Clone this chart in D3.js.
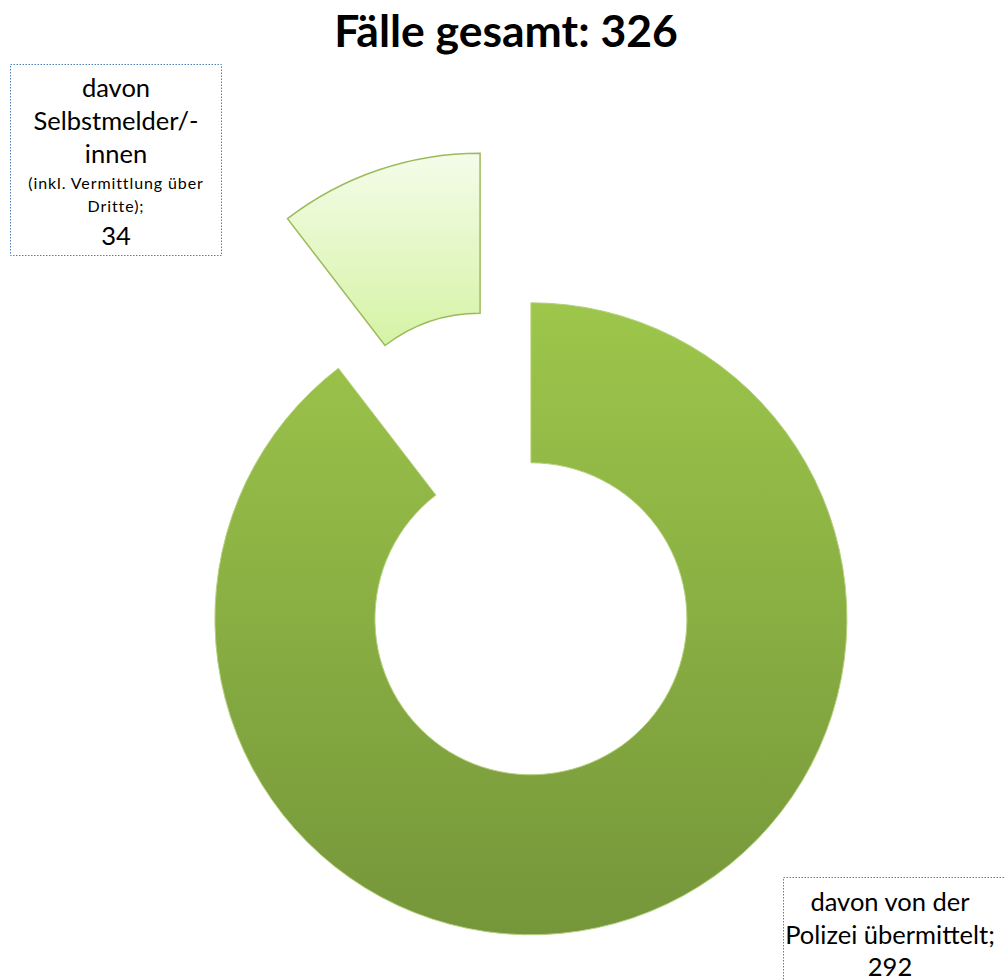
<!DOCTYPE html>
<meta charset="utf-8">
<script src="https://d3js.org/d3.v7.min.js"></script>
<style>
  body { margin: 0; background: #fff; }
</style>
<div id="my_dataviz"></div>
<script>

// data
var categories = ["davon von der Polizei übermittelt", "davon Selbstmelder/-innen (inkl. Vermittlung über Dritte)"];
var values = [292, 34];
var title = "Fälle gesamt: 326";

var width = 1005, height = 980;
var cx = 505.5, cy = 544,      // chart centre
    explode = 79,
    outerR = 316, innerR = 156;

var svg = d3.select("#my_dataviz")
  .append("svg")
    .attr("width", width)
    .attr("height", height)
    .style("font-family", "Lato, 'Open Sans', sans-serif");

// gradients, one per slice (top -> bottom)
var grads = [["#9dc64b", "#75963a"], ["#f4fce9", "#d5f3a5"]];
var strokes = ["#b5d07e", "#9bbb59"];
var defs = svg.append("defs");
grads.forEach(function(g, i) {
  var lg = defs.append("linearGradient")
      .attr("id", "grad" + i)
      .attr("x1", 0).attr("y1", 0).attr("x2", 0).attr("y2", 1);
  lg.append("stop").attr("offset", "0%").attr("stop-color", g[0]);
  lg.append("stop").attr("offset", "100%").attr("stop-color", g[1]);
});

var pie = d3.pie().sort(null).value(function(d) { return d; });
var arc = d3.arc().innerRadius(innerR).outerRadius(outerR);

var slices = pie(values);

svg.append("g")
    .attr("transform", "translate(" + cx + "," + cy + ")")
  .selectAll("path")
  .data(slices)
  .enter().append("path")
    .attr("d", arc)
    .attr("transform", function(d) {
      var a = (d.startAngle + d.endAngle) / 2;
      return "translate(" + (Math.sin(a) * explode) + "," + (-Math.cos(a) * explode) + ")";
    })
    .attr("fill", function(d, i) { return "url(#grad" + i + ")"; })
    .attr("stroke", function(d, i) { return strokes[i]; })
    .attr("stroke-width", function(d, i) { return i == 1 ? 1.5 : 1; });

// title
svg.append("text")
    .attr("x", 506)
    .attr("y", 47)
    .attr("text-anchor", "middle")
    .style("font-size", "44.5px")
    .style("font-weight", "bold")
    .text(title);

// label boxes
var labelBoxes = [
  {x: 783.5, y: 877.5, w: 240, h: 120, cx: 890,
   lines: [["davon von der", 25.5, 911, 0], ["Polizei übermittelt;", 25.5, 944, 0], [values[0], 25.5, 976, 0]]},
  {x: 10.5, y: 64.5, w: 211, h: 191, cx: 116,
   lines: [["davon", 25.5, 97, 0], ["Selbstmelder/-", 25.5, 130, 0], ["innen", 25.5, 163, 0],
           ["(inkl. Vermittlung über", 16, 189, 0.9], ["Dritte);", 16, 212, 0.9], [values[1], 25.5, 245, 0]]}
];

labelBoxes.forEach(function(b) {
  svg.append("rect")
      .attr("x", b.x).attr("y", b.y)
      .attr("width", b.w).attr("height", b.h)
      .attr("fill", "#fff")
      .attr("stroke", "#4f81bd")
      .attr("stroke-width", 1)
      .attr("stroke-dasharray", "1.5,1.5");
  b.lines.forEach(function(l) {
    svg.append("text")
        .attr("x", b.cx)
        .attr("y", l[2])
        .attr("text-anchor", "middle")
        .style("font-size", l[1] + "px")
        .style("letter-spacing", l[3] + "px")
        .style("fill", "#000")
        .text(l[0]);
  });
});

</script>
